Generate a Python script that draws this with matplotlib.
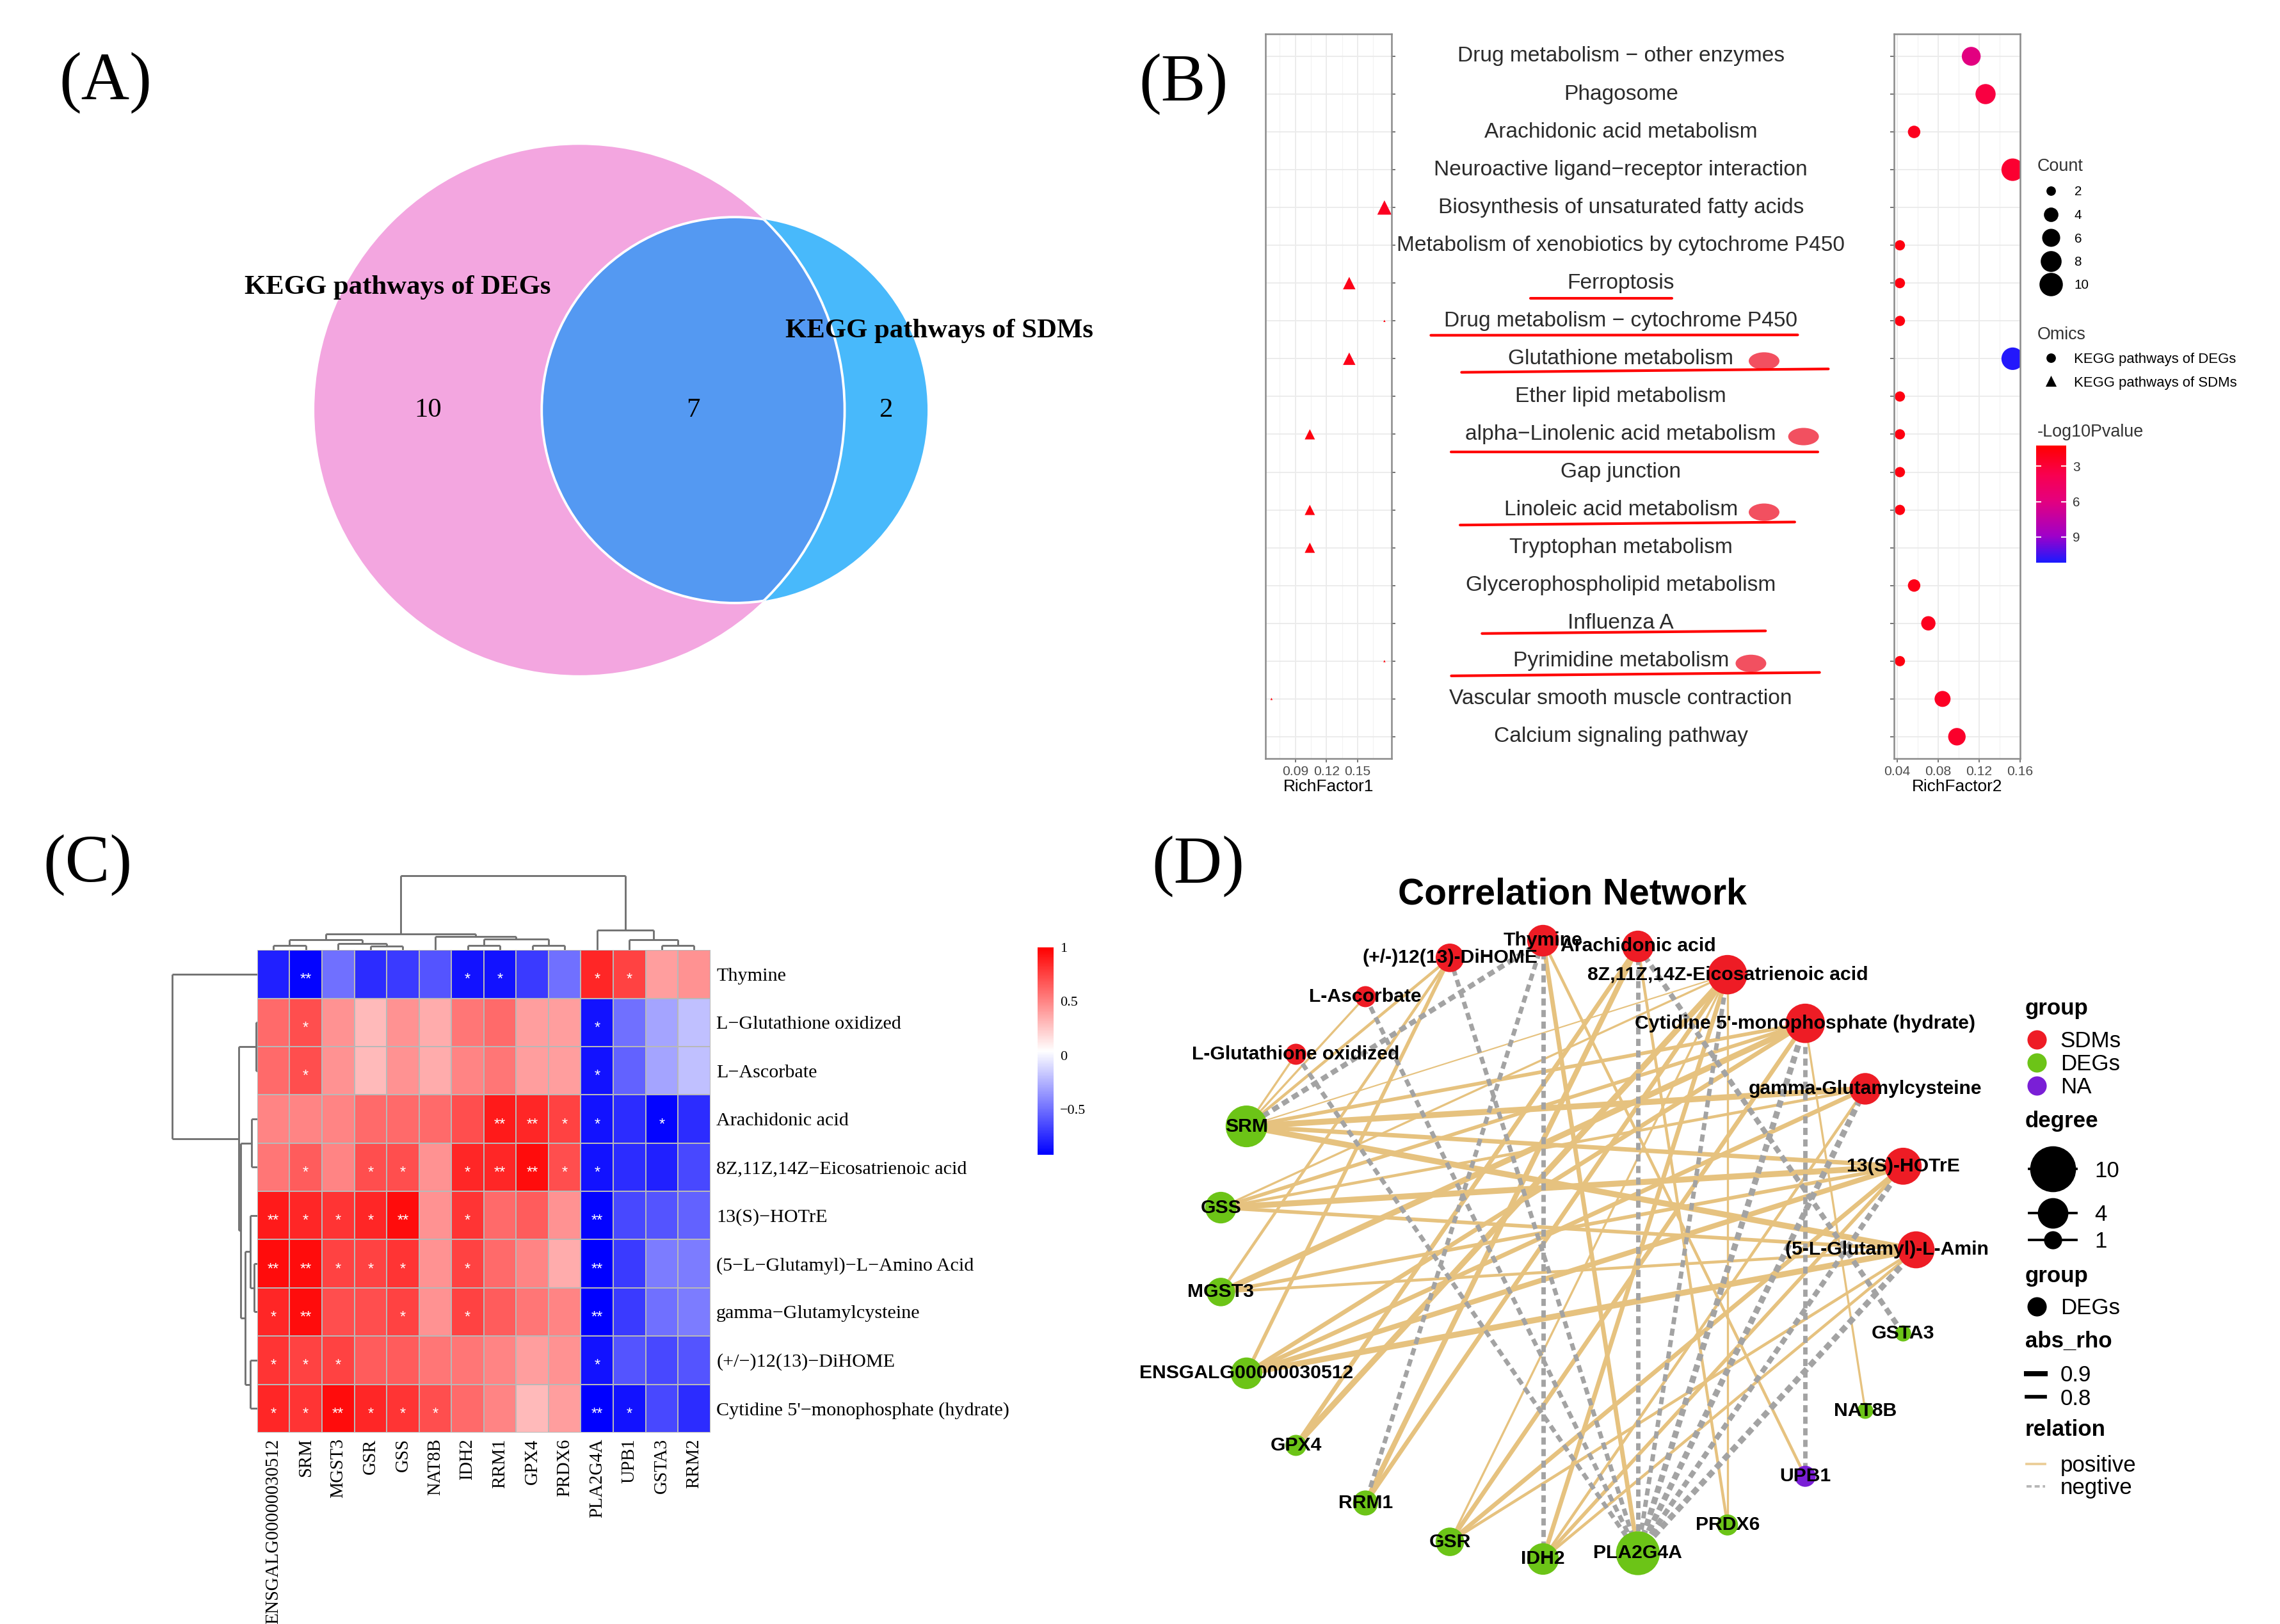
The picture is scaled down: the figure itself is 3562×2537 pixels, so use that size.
import numpy as np
import matplotlib
matplotlib.use('Agg')
import matplotlib.pyplot as plt
import matplotlib.cm as cm
from matplotlib.patches import Circle, Ellipse
from matplotlib.lines import Line2D
from matplotlib.collections import LineCollection
from matplotlib.colors import LinearSegmentedColormap, Normalize

plt.rcParams['font.family'] = ['Liberation Sans', 'DejaVu Sans']
plt.rcParams['lines.scale_dashes'] = False
SERIF = ['Liberation Serif', 'DejaVu Serif']

# ---------------- (A) venn ----------------
venn_names = ['KEGG pathways of DEGs', 'KEGG pathways of SDMs']
venn_counts = [10, 7, 2]          # DEGs only, shared, SDMs only

# ---------------- (B) KEGG enrichment ----------------
pathways = ['Drug metabolism − other enzymes', 'Phagosome', 'Arachidonic acid metabolism',
            'Neuroactive ligand−receptor interaction', 'Biosynthesis of unsaturated fatty acids',
            'Metabolism of xenobiotics by cytochrome P450', 'Ferroptosis',
            'Drug metabolism − cytochrome P450', 'Glutathione metabolism', 'Ether lipid metabolism',
            'alpha−Linolenic acid metabolism', 'Gap junction', 'Linoleic acid metabolism',
            'Tryptophan metabolism', 'Glycerophospholipid metabolism', 'Influenza A',
            'Pyrimidine metabolism', 'Vascular smooth muscle contraction', 'Calcium signaling pathway']
nan = np.nan
rich_sdm = [nan, nan, nan, nan, 0.176, nan, 0.142, 0.176, 0.142, nan,
            0.104, nan, 0.104, 0.104, nan, nan, 0.176, 0.067, nan]
count_sdm = [nan, nan, nan, nan, 5, nan, 4, 1, 4, nan, 3, nan, 3, 3, nan, nan, 1, 1, nan]
logp_sdm = [nan, nan, nan, nan, 2.3, nan, 2.0, 1.6, 2.0, nan, 1.8, nan, 1.8, 1.8, nan, nan, 1.5, 1.4, nan]
rich_deg = [0.1125, 0.1265, 0.0567, 0.153, nan, 0.0428, 0.0428, 0.0428, 0.153, 0.0428,
            0.0428, 0.0428, 0.0428, nan, 0.0567, 0.0706, 0.0428, 0.0845, 0.0985]
count_deg = [8, 9, 4, 11, nan, 3, 3, 3, 11, 3, 3, 3, 3, nan, 4, 5, 3, 6, 7]
logp_deg = [6.0, 3.3, 2.2, 2.8, nan, 1.8, 1.8, 1.8, 11.0, 1.8, 1.8, 1.8, 1.8, nan, 2.0, 2.2, 1.8, 2.4, 2.6]

# hand drawn marks on the figure: pathway, underline x0/x1 (px), offsets (rows), ellipse x
highlight = [('Ferroptosis', 1047, 1144, 0.40, 0.40, None),
             ('Drug metabolism − cytochrome P450', 979, 1230, 0.38, 0.37, None),
             ('Glutathione metabolism', 1000, 1251, 0.36, 0.27, 1207),
             ('alpha−Linolenic acid metabolism', 993, 1244, 0.46, 0.46, 1234),
             ('Linoleic acid metabolism', 999, 1228, 0.40, 0.32, 1207),
             ('Influenza A', 1014, 1208, 0.27, 0.20, None),
             ('Pyrimidine metabolism', 993, 1245, 0.39, 0.30, 1198)]

# ---------------- (C) correlation heatmap ----------------
metabolites = ['Thymine', 'L-Glutathione oxidized', 'L-Ascorbate', 'Arachidonic acid',
               '8Z,11Z,14Z-Eicosatrienoic acid', '13(S)-HOTrE', '(5-L-Glutamyl)-L-Amino Acid',
               'gamma-Glutamylcysteine', '(+/-)12(13)-DiHOME', "Cytidine 5'-monophosphate (hydrate)"]
genes = ['ENSGALG00000030512', 'SRM', 'MGST3', 'GSR', 'GSS', 'NAT8B', 'IDH2', 'RRM1',
         'GPX4', 'PRDX6', 'PLA2G4A', 'UPB1', 'GSTA3', 'RRM2']
rho = np.array([
    [-0.80, -0.90, -0.50, -0.75, -0.70, -0.60, -0.85, -0.85, -0.70, -0.50, 0.85, 0.75, 0.40, 0.45],
    [0.60, 0.70, 0.45, 0.30, 0.45, 0.35, 0.55, 0.60, 0.40, 0.40, -0.85, -0.50, -0.30, -0.20],
    [0.60, 0.70, 0.45, 0.30, 0.45, 0.35, 0.50, 0.55, 0.40, 0.40, -0.85, -0.55, -0.30, -0.20],
    [0.50, 0.50, 0.50, 0.60, 0.60, 0.60, 0.70, 0.90, 0.85, 0.75, -0.85, -0.75, -0.90, -0.75],
    [0.55, 0.65, 0.50, 0.70, 0.70, 0.45, 0.85, 0.85, 0.95, 0.70, -0.85, -0.75, -0.80, -0.65],
    [0.90, 0.85, 0.80, 0.85, 0.95, 0.45, 0.80, 0.60, 0.65, 0.45, -0.90, -0.65, -0.60, -0.55],
    [0.95, 0.95, 0.75, 0.75, 0.80, 0.45, 0.75, 0.60, 0.50, 0.35, -0.95, -0.70, -0.45, -0.45],
    [0.85, 0.95, 0.70, 0.70, 0.75, 0.45, 0.75, 0.65, 0.55, 0.50, -0.95, -0.70, -0.50, -0.45],
    [0.80, 0.75, 0.75, 0.65, 0.65, 0.55, 0.55, 0.50, 0.40, 0.45, -0.85, -0.60, -0.65, -0.60],
    [0.85, 0.80, 0.95, 0.85, 0.80, 0.70, 0.60, 0.50, 0.30, 0.40, -0.95, -0.85, -0.65, -0.75]])
stars = [
    ['', '**', '', '', '', '', '*', '*', '', '', '*', '*', '', ''],
    ['', '*', '', '', '', '', '', '', '', '', '*', '', '', ''],
    ['', '*', '', '', '', '', '', '', '', '', '*', '', '', ''],
    ['', '', '', '', '', '', '', '**', '**', '*', '*', '', '*', ''],
    ['', '*', '', '*', '*', '', '*', '**', '**', '*', '*', '', '', ''],
    ['**', '*', '*', '*', '**', '', '*', '', '', '', '**', '', '', ''],
    ['**', '**', '*', '*', '*', '', '*', '', '', '', '**', '', '', ''],
    ['*', '**', '', '', '*', '', '*', '', '', '', '**', '', '', ''],
    ['*', '*', '*', '', '', '', '', '', '', '', '*', '', '', ''],
    ['*', '*', '**', '*', '*', '*', '', '', '', '', '**', '*', '', '']]
# merges (left, right, height); new node ids continue after the leaves
col_links = [(0, 1, 20), (3, 4, 17), (2, 15, 28), (14, 16, 45), (6, 7, 20), (8, 9, 22),
             (18, 19, 50), (5, 20, 60), (17, 21, 72), (12, 13, 20), (11, 23, 45),
             (10, 24, 90), (22, 25, 332)]
row_links = [(1, 2, 5), (3, 4, 25), (6, 7, 13), (5, 12, 30), (8, 9, 30), (13, 14, 55),
             (11, 15, 75), (10, 16, 83), (0, 17, 380)]

# ---------------- (D) network ----------------
circle_order = ['(5-L-Glutamyl)-L-Amino Acid', '13(S)-HOTrE', 'gamma-Glutamylcysteine',
                "Cytidine 5'-monophosphate (hydrate)", '8Z,11Z,14Z-Eicosatrienoic acid',
                'Arachidonic acid', 'Thymine', '(+/-)12(13)-DiHOME', 'L-Ascorbate',
                'L-Glutathione oxidized', 'SRM', 'GSS', 'MGST3', 'ENSGALG00000030512', 'GPX4',
                'RRM1', 'GSR', 'IDH2', 'PLA2G4A', 'PRDX6', 'UPB1', 'NAT8B', 'GSTA3']
na_genes = ['UPB1']
group_colors = {'SDMs': '#ee1c25', 'DEGs': '#6cc417', 'NA': '#7a1fd6'}
POS_COLOR, NEG_COLOR = '#e6c27f', '#a3a3a3'

# ---------------- layout helpers (reference pixel grid 1560 x 1111) ----------------
W, H = 1560.0, 1111.0
PX_PER_PT = (228 / 72) / (3562 / W)


def frac(x, y):
    return x / W, 1 - y / H


def rect(x0, y0, x1, y1):
    return [x0 / W, 1 - y1 / H, (x1 - x0) / W, (y1 - y0) / H]


def count_diam(c):
    return np.sqrt(1.5 ** 2 + (15 ** 2 - 1.5 ** 2) * (c - 1) / 9.5) / PX_PER_PT


def degree_diam(d):
    return np.sqrt(11 ** 2 + (30 ** 2 - 11 ** 2) * (d - 1) / 9) / PX_PER_PT


def rho_width(v):
    return 0.3 + max(abs(v) - 0.6, 0) * 7.5


fig = plt.figure(figsize=(3562 / 228, 2537 / 228), dpi=228)

for lab, x, y in [('(A)', 72, 57), ('(B)', 810, 58), ('(C)', 60, 592), ('(D)', 820, 593)]:
    fig.text(*frac(x, y), lab, family=SERIF, fontsize=33, ha='center', va='center')


def key(handle, label, xl, y, fs, hl, pad):
    # one legend row, vertically centred on y (reference px)
    fig.legend([handle], [label], loc='center left', bbox_to_anchor=frac(xl, y),
               frameon=False, borderpad=0, borderaxespad=0, fontsize=fs,
               handlelength=hl, handletextpad=pad, handleheight=0.7)


# ================= (A) =================
r1 = np.sqrt(venn_counts[0] + venn_counts[1])
r2 = np.sqrt(venn_counts[1] + venn_counts[2])


def lens_area(d, ra, rb):
    a1 = np.arccos((d * d + ra * ra - rb * rb) / (2 * d * ra))
    a2 = np.arccos((d * d + rb * rb - ra * ra) / (2 * d * rb))
    tri = 0.5 * np.sqrt((-d + ra + rb) * (d + ra - rb) * (d - ra + rb) * (d + ra + rb))
    return ra * ra * a1 + rb * rb * a2 - tri


lo, hi = r1 - r2 + 1e-6, r1 + r2 - 1e-6
for _ in range(60):
    mid = (lo + hi) / 2
    if lens_area(mid, r1, r2) > np.pi * venn_counts[1]:
        lo = mid
    else:
        hi = mid
dist = (lo + hi) / 2

axa = fig.add_axes(rect(130, 50, 730, 520))
axa.set_xlim(-6.057, 7.58)
axa.set_ylim(-5.443, 5.239)
axa.axis('off')
pink = Circle((0, 0), r1, fc='#f3a6e0', ec='none')
blue = Circle((dist, 0), r2, fc='#48b9fb', ec='none')
axa.add_patch(pink)
axa.add_patch(blue)
inter = Circle((dist, 0), r2, fc='#5499f2', ec='none')
axa.add_patch(inter)
inter.set_clip_path(pink)
arc1 = Circle((dist, 0), r2, fill=False, ec='white', lw=1.2)
axa.add_patch(arc1)
arc1.set_clip_path(pink)
arc2 = Circle((0, 0), r1, fill=False, ec='white', lw=1.2)
axa.add_patch(arc2)
arc2.set_clip_path(blue)
axa.text(-2.83, 1.91, venn_names[0], family=SERIF, weight='bold', fontsize=13.5, ha='center', va='center')
axa.text(5.6, 1.23, venn_names[1], family=SERIF, weight='bold', fontsize=13.5, ha='center', va='center')
num_x = [(-r1 + dist - r2) / 2, (r1 + dist - r2) / 2, (r1 + dist + r2) / 2]
for xv, n in zip(num_x, venn_counts):
    axa.text(xv, 0, str(n), family=SERIF, fontsize=13.5, ha='center', va='center')

# ================= (B) =================
rows = np.arange(len(pathways))
ylim_b = (18.58, -0.6)
pnorm = Normalize(1.26, 11.19)
pcmap = LinearSegmentedColormap.from_list(
    'pv', [(0, '#ff0000'), (0.25, '#f80050'), (0.47, '#e4007e'), (0.77, '#a000c8'), (1, '#1a1aff')])


def style_rich(ax, ticks, minor, xlabel):
    ax.set_ylim(*ylim_b)
    ax.set_xticks(ticks)
    ax.set_xticks(minor, minor=True)
    ax.set_xticklabels([f'{t:.2f}' for t in ticks])
    ax.set_yticks(rows)
    ax.set_yticklabels([])
    ax.grid(True, which='major', color='#ebebeb', lw=0.6)
    ax.grid(True, which='minor', axis='x', color='#f3f3f3', lw=0.4)
    ax.set_axisbelow(True)
    for s in ax.spines.values():
        s.set_color('#8c8c8c')
        s.set_linewidth(0.8)
    ax.tick_params(axis='both', which='major', length=2, width=0.5, color='#555555',
                   labelsize=6.7, labelcolor='#4d4d4d', pad=1.5)
    ax.tick_params(axis='x', which='minor', length=0)
    ax.set_xlabel(xlabel, fontsize=8.3, labelpad=0.5)


ax_l = fig.add_axes(rect(866, 23, 952, 519))
ax_l.set_xlim(0.0614, 0.1827)
style_rich(ax_l, [0.09, 0.12, 0.15], [0.075, 0.105, 0.135, 0.165], 'RichFactor1')
ax_l.yaxis.tick_right()
ax_l.scatter(rich_sdm, rows, s=[count_diam(c) ** 2 if c == c else 0 for c in count_sdm],
             c=logp_sdm, cmap=pcmap, norm=pnorm, marker='^', linewidths=0)

ax_r = fig.add_axes(rect(1296, 23, 1382, 519))
ax_r.set_xlim(0.0372, 0.16)
style_rich(ax_r, [0.04, 0.08, 0.12, 0.16], [0.06, 0.10, 0.14], 'RichFactor2')
ax_r.scatter(rich_deg, rows, s=[count_diam(c) ** 2 if c == c else 0 for c in count_deg],
             c=logp_deg, cmap=pcmap, norm=pnorm, marker='o', linewidths=0)

ax_m = fig.add_axes(rect(952, 23, 1294, 519))
ax_m.set_xlim(952, 1294)
ax_m.set_ylim(*ylim_b)
ax_m.axis('off')
for r, name in zip(rows, pathways):
    ax_m.text(1109, r, name, ha='center', va='center', fontsize=10.6, color='#2b2b2b')
for name, x0, x1, d0, d1, ex in highlight:
    r = pathways.index(name)
    ax_m.plot([x0, x1], [r + d0, r + d1], color='#ff0000', lw=1.3, solid_capstyle='round')
    if ex is not None:
        ax_m.add_patch(Ellipse((ex, r + 0.06), 21, 0.46, fc='#f25060', ec='none'))

# legends of (B)
fig.text(*frac(1394, 113.7), 'Count', fontsize=8.5, color='#333333', va='center')
for c, yy in zip([2, 4, 6, 8, 10], [131.1, 147.3, 163.4, 179.2, 195.1]):
    key(Line2D([], [], ls='', marker='o', color='black', markersize=count_diam(c)),
        str(c), 1398.5, yy, 6.5, 1.0, 1.3)
fig.text(*frac(1394, 229), 'Omics', fontsize=8.5, color='#333333', va='center')
for mk, name, yy in zip(['o', '^'], venn_names, [245.9, 262]):
    key(Line2D([], [], ls='', marker=mk, color='black', markersize=count_diam(2)),
        name, 1398.2, yy, 7, 1.0, 1.16)
fig.text(*frac(1394, 295.4), '-Log10Pvalue', fontsize=8.5, color='#333333', va='center')
cax_b = fig.add_axes(rect(1393.3, 304.9, 1413.8, 385))
cb_b = fig.colorbar(cm.ScalarMappable(norm=pnorm, cmap=pcmap), cax=cax_b)
cax_b.invert_yaxis()
cb_b.set_ticks([3, 6, 9])
cb_b.outline.set_visible(False)
cax_b.yaxis.set_ticks_position('both')
cax_b.tick_params(labelsize=6.5, length=2.5, width=0.6, color='#ffffff', direction='in',
                  pad=3, labelright=True, labelleft=False, labelcolor='#333333')

# ================= (C) =================
hcmap = LinearSegmentedColormap.from_list('bwr2', ['#0000ff', '#ffffff', '#ff0000'])
hnorm = Normalize(-0.92, 1.0)
axh = fig.add_axes(rect(176, 650, 486, 980))
axh.pcolormesh(rho, cmap=hcmap, norm=hnorm, edgecolors='#b8b8b8', linewidth=0.5)
axh.set_xlim(0, len(genes))
axh.set_ylim(len(metabolites), 0)
for i in range(len(metabolites)):
    for j in range(len(genes)):
        if stars[i][j]:
            axh.text(j + 0.5, i + 0.62, stars[i][j], color='white', fontsize=7.5,
                     ha='center', va='center')
axh.set_xticks(np.arange(len(genes)) + 0.5)
axh.set_xticklabels(genes, rotation=90, family=SERIF, fontsize=9)
axh.set_yticks(np.arange(len(metabolites)) + 0.5)
axh.set_yticklabels([m.replace('-', '−') for m in metabolites], family=SERIF, fontsize=9.5)
axh.yaxis.tick_right()
axh.tick_params(length=0, pad=3)
for s in axh.spines.values():
    s.set_visible(False)


def dendro_segments(links, n, horizontal):
    pos = {i: i + 0.5 for i in range(n)}
    hgt = {i: 0.0 for i in range(n)}
    segs = []
    for k, (a, b, h) in enumerate(links):
        for c in (a, b):
            segs.append([(pos[c], hgt[c]), (pos[c], h)])
        segs.append([(pos[a], h), (pos[b], h)])
        pos[n + k] = (pos[a] + pos[b]) / 2
        hgt[n + k] = h
    if horizontal:
        segs = [[(p[1], p[0]) for p in s] for s in segs]
    return segs


axcd = fig.add_axes(rect(176, 598, 486, 650))
axcd.add_collection(LineCollection(dendro_segments(col_links, len(genes), False),
                                   colors='#707070', linewidths=0.9))
axcd.set_xlim(0, len(genes))
axcd.set_ylim(0, 338)
axcd.axis('off')

axrd = fig.add_axes(rect(117, 650, 176, 980))
axrd.add_collection(LineCollection(dendro_segments(row_links, len(metabolites), True),
                                   colors='#707070', linewidths=0.9))
axrd.set_xlim(386, 0)
axrd.set_ylim(len(metabolites), 0)
axrd.axis('off')

cax_c = fig.add_axes(rect(710, 648, 721, 790))
cb_c = fig.colorbar(cm.ScalarMappable(norm=hnorm, cmap=hcmap), cax=cax_c)
cb_c.set_ticks([-0.5, 0, 0.5, 1])
cb_c.set_ticklabels(['−0.5', '0', '0.5', '1'])
cb_c.outline.set_visible(False)
cax_c.tick_params(length=0, pad=3)
for t in cax_c.get_yticklabels():
    t.set_family(SERIF)
    t.set_fontsize(7)

# ================= (D) =================
node_group = {}
for m in metabolites:
    node_group[m] = 'SDMs'
for g in genes:
    node_group[g] = 'NA' if g in na_genes else 'DEGs'
ang = 2 * np.pi * np.arange(len(circle_order)) / len(circle_order)
pos = {name: (np.cos(a), np.sin(a)) for name, a in zip(circle_order, ang)}

edges = []
for i, m in enumerate(metabolites):
    for j, g in enumerate(genes):
        if stars[i][j]:
            edges.append((m, g, rho[i, j]))
degree = {n: 0 for n in circle_order}
for m, g, v in edges:
    degree[m] += 1
    degree[g] += 1

axd = fig.add_axes(rect(770, 625, 1360, 1095))
axd.set_xlim(-1.264, 1.205)
axd.set_ylim(-1.132, 1.085)
axd.axis('off')
pos_e = [e for e in edges if e[2] > 0]
neg_e = [e for e in edges if e[2] < 0]
axd.add_collection(LineCollection([[pos[m], pos[g]] for m, g, v in pos_e],
                                  colors=POS_COLOR, linewidths=[rho_width(v) for m, g, v in pos_e],
                                  zorder=1))
axd.add_collection(LineCollection([[pos[m], pos[g]] for m, g, v in neg_e],
                                  colors=NEG_COLOR, linewidths=[rho_width(v) for m, g, v in neg_e],
                                  linestyles=[(0, (3.5, 2.2))], zorder=1))
xs = [pos[n][0] for n in circle_order]
ys = [pos[n][1] for n in circle_order]
axd.scatter(xs, ys, s=[degree_diam(degree[n]) ** 2 for n in circle_order],
            c=[group_colors[node_group[n]] for n in circle_order], linewidths=0, zorder=3)
for n in circle_order:
    axd.text(pos[n][0], pos[n][1], n, fontsize=9.5, weight='bold', ha='center', va='center',
             zorder=4, clip_on=True)
fig.text(*frac(1076, 612), 'Correlation Network', fontsize=18, weight='bold',
         ha='center', va='center')

# legends of (D)
for title, yy in [('group', 690), ('degree', 767), ('group', 873), ('abs_rho', 917.6),
                  ('relation', 978)]:
    fig.text(*frac(1385.6, yy), title, fontsize=11, weight='bold', va='center')
for k, yy in zip(['SDMs', 'DEGs', 'NA'], [712.3, 728, 743.7]):
    key(Line2D([], [], ls='', marker='o', color=group_colors[k], markersize=8.5),
        k, 1386, yy, 11, 1.0, 0.55)
for d, yy in zip([10, 4, 1], [801, 831, 849.3]):
    key(Line2D([], [], color='black', lw=1.2, marker='o', markersize=degree_diam(d)),
        str(d), 1388.5, yy, 11, 2.1, 0.82)
key(Line2D([], [], ls='', marker='o', color='black', markersize=8.5), 'DEGs', 1386, 895, 11, 1.0, 0.55)
for v, yy in zip([0.9, 0.8], [940.8, 956.9]):
    key(Line2D([], [], color='black', lw=rho_width(v)), str(v), 1386.5, yy, 11, 0.85, 0.67)
key(Line2D([], [], color=POS_COLOR, lw=1.2, alpha=0.8), 'positive', 1386.5, 1002.6, 11, 0.85, 0.67)
key(Line2D([], [], color=NEG_COLOR, lw=1.2, ls=(0, (2.5, 1.5)), alpha=0.8), 'negtive',
    1386.5, 1018, 11, 0.85, 0.67)

fig.savefig('out.png', dpi=228)
